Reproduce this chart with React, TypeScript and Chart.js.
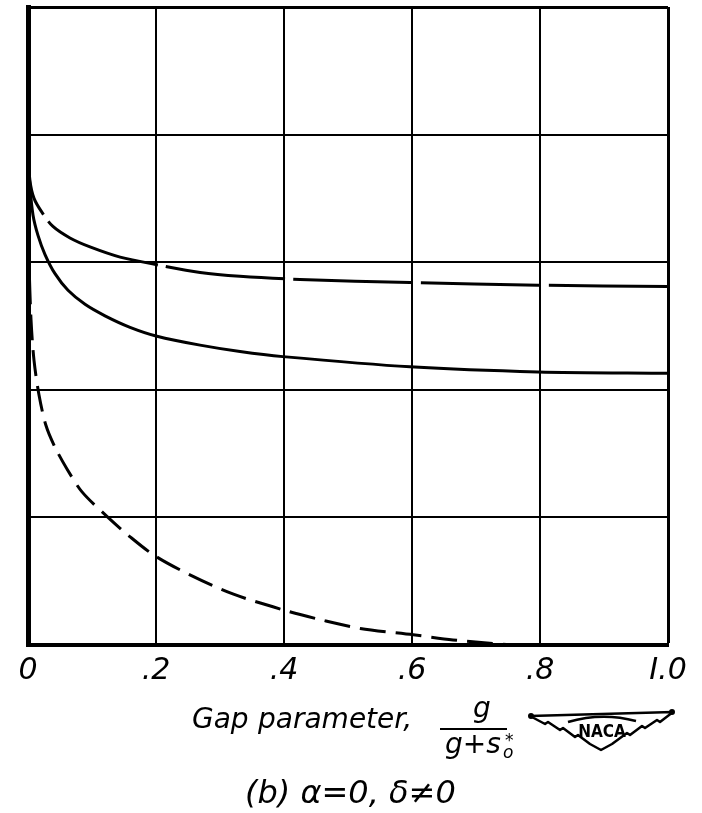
import React, { useEffect, useRef } from "react";
import { Chart, registerables } from "chart.js";

Chart.register(...registerables);

// Gap parameter (x) and curve values (arbitrary ordinate units, 5 grid divisions)
const xTop = [0, 0.003, 0.0094, 0.0219, 0.039, 0.0656, 0.0969, 0.144, 0.2016, 0.269, 0.331, 0.425, 0.597, 0.797, 1.0];
const yTop = [3.88, 3.64, 3.5, 3.39, 3.28, 3.19, 3.12, 3.04, 2.98, 2.92, 2.89, 2.865, 2.84, 2.82, 2.81];

const xMid = [0, 0.003, 0.0078, 0.0156, 0.0266, 0.0422, 0.0625, 0.0891, 0.1203, 0.1594, 0.2016, 0.2688, 0.3313, 0.3984, 0.5969, 0.7969, 1.0];
const yMid = [3.88, 3.6, 3.37, 3.21, 3.06, 2.91, 2.78, 2.67, 2.58, 2.49, 2.42, 2.35, 2.3, 2.26, 2.18, 2.14, 2.13];

const xDash = [0, 0.0016, 0.0047, 0.0094, 0.0172, 0.0281, 0.0422, 0.0609, 0.0844, 0.125, 0.159, 0.198, 0.253, 0.32, 0.402, 0.456, 0.519, 0.602, 0.664, 0.717, 0.761, 0.8];
const yDash = [3.72, 3.02, 2.55, 2.23, 1.96, 1.72, 1.55, 1.38, 1.2, 1.0, 0.85, 0.7, 0.55, 0.4, 0.27, 0.2, 0.13, 0.08, 0.04, 0.016, 0.0, 0.0];

const xTickLabels = ["0", ".2", ".4", ".6", ".8", "I.0"];

const toPts = (xs: number[], ys: number[]) => xs.map((x, i) => ({ x, y: ys[i] }));

const textPlugin = {
  id: "naca-text",
  afterDraw(chart: any) {
    const ctx = chart.ctx as CanvasRenderingContext2D;
    ctx.save();
    ctx.fillStyle = "#000";
    ctx.strokeStyle = "#000";
    ctx.textAlign = "left";
    ctx.textBaseline = "alphabetic";
    ctx.font = 'italic 28px "DejaVu Sans"';
    ctx.fillText("Gap", 192, 728);
    ctx.fillText("parameter,", 258, 728);
    // fraction
    ctx.textAlign = "center";
    ctx.fillText("g", 482, 717);
    ctx.lineWidth = 2;
    ctx.beginPath();
    ctx.moveTo(440, 729);
    ctx.lineTo(507, 729);
    ctx.stroke();
    ctx.textAlign = "left";
    ctx.fillText("g+s", 445, 753);
    ctx.font = 'italic 17px "DejaVu Sans"';
    ctx.fillText("o", 503, 758);
    ctx.fillText("*", 505, 746);
    // NACA wing logo
    ctx.lineWidth = 2.5;
    ctx.lineJoin = "round";
    ctx.beginPath();
    ctx.moveTo(530, 716);
    ctx.lineTo(673, 712);
    const right = [[660, 722], [657, 720], [645, 728], [642, 726], [630, 735], [627, 733], [612, 744], [601, 750]];
    const left = [[590, 744], [578, 735], [575, 737], [563, 728], [560, 730], [548, 722], [545, 724], [530, 716]];
    right.forEach(([x, y]) => ctx.lineTo(x, y));
    left.forEach(([x, y]) => ctx.lineTo(x, y));
    ctx.stroke();
    ctx.beginPath();
    ctx.moveTo(568, 722);
    ctx.quadraticCurveTo(602, 712, 636, 721);
    ctx.stroke();
    ctx.beginPath();
    ctx.arc(531, 716, 3, 0, Math.PI * 2);
    ctx.arc(672, 712, 3, 0, Math.PI * 2);
    ctx.fill();
    ctx.textAlign = "center";
    ctx.font = 'bold 17px "DejaVu Sans Condensed", "Liberation Sans Narrow", "DejaVu Sans"';
    ctx.fillText("NACA", 602, 737);
    // caption
    ctx.textAlign = "left";
    ctx.font = 'italic 32px "DejaVu Sans"';
    ctx.fillText("(b) \u03b1=0, \u03b4\u22600", 245, 803);
    ctx.restore();
  },
};

export default function App() {
  const ref = useRef<HTMLCanvasElement | null>(null);
  useEffect(() => {
    if (!ref.current) return;
    const chart = new Chart(ref.current, {
      type: "line",
      data: {
        datasets: [
          {
            data: toPts(xTop, yTop),
            borderColor: "#000",
            borderWidth: 3,
            pointRadius: 0,
            borderDash: [120, 8],
            borderDashOffset: 52,
            tension: 0.3,
          },
          {
            data: toPts(xMid, yMid),
            borderColor: "#000",
            borderWidth: 3,
            pointRadius: 0,
            tension: 0.3,
          },
          {
            data: toPts(xDash, yDash),
            borderColor: "#000",
            borderWidth: 3,
            pointRadius: 0,
            borderDash: [26, 10],
            tension: 0.3,
          },
        ],
      },
      options: {
        animation: false,
        responsive: false,
        events: [],
        layout: { padding: { left: 28, right: 34, top: 7, bottom: 118 } },
        plugins: { legend: { display: false }, tooltip: { enabled: false } },
        scales: {
          x: {
            type: "linear",
            min: 0,
            max: 1,
            afterFit: (s: any) => { s.height = 50; },
            ticks: {
              stepSize: 0.2,
              color: "#000",
              padding: 8,
              maxRotation: 0,
              autoSkip: false,
              font: { family: "DejaVu Sans", size: 30, style: "italic" },
              callback: (_v: any, i: number) => xTickLabels[i],
            },
            grid: { color: "#000", lineWidth: (c: any) => (c.index === 5 ? 3 : 2), drawTicks: false },
            border: { color: "#000", width: 4 },
          },
          y: {
            min: 0,
            max: 5,
            afterFit: (s: any) => { s.width = 0; },
            ticks: { stepSize: 1, display: false },
            grid: { color: "#000", lineWidth: (c: any) => (c.index === 5 ? 3 : 2), drawTicks: false },
            border: { color: "#000", width: 5 },
          },
        },
      },
      plugins: [textPlugin],
    });
    return () => chart.destroy();
  }, []);
  return (
    <div style={{ position: "absolute", left: 0, top: 0, width: 702, height: 813, background: "#fff" }}>
      <canvas ref={ref} width={702} height={813} />
    </div>
  );
}
